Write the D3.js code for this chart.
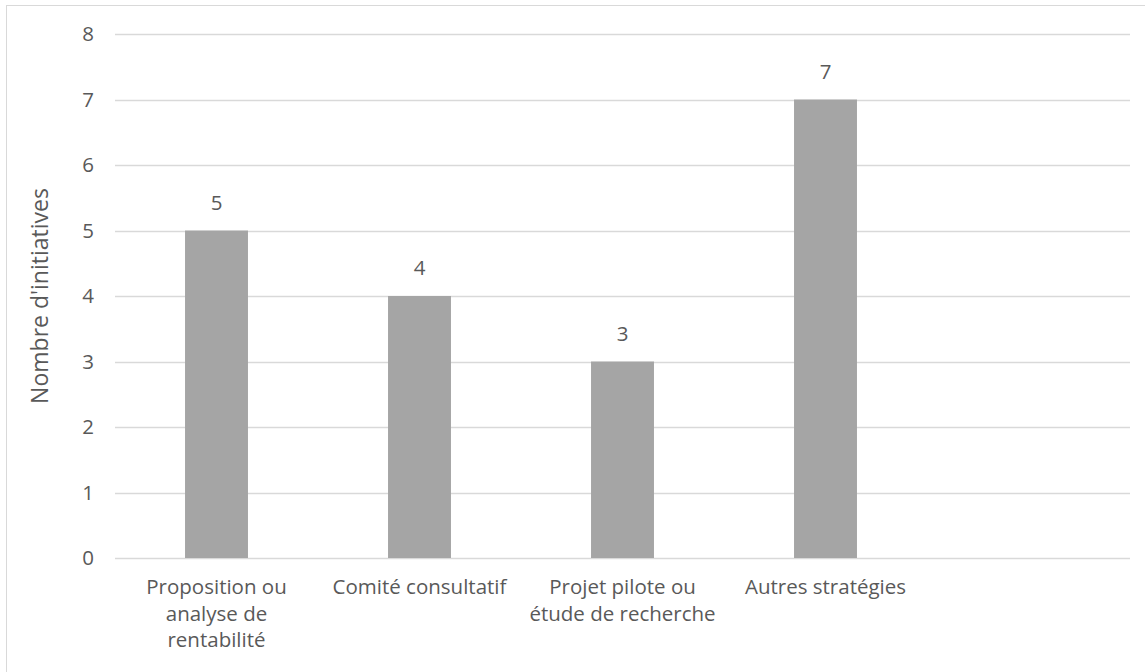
<!DOCTYPE html>
<html>
<head>
<meta charset="utf-8">
<script src="https://cdn.jsdelivr.net/npm/d3@7"></script>
<style>
  body { margin: 0; background: #fff; }
  svg text { font-family: "Open Sans", "Liberation Sans", sans-serif; fill: #595959; }
</style>
</head>
<body>
<svg id="chart" width="1145" height="672"></svg>
<script>
// Chart data
var categories = ["Proposition ou\nanalyse de\nrentabilité", "Comité consultatif", "Projet pilote ou\nétude de recherche", "Autres stratégies", ""];
var values = [5, 4, 3, 7, null];
var yTicks = [0, 1, 2, 3, 4, 5, 6, 7, 8];
var yTitle = "Nombre d'initiatives";

var svg = d3.select("#chart");

// outer frame
svg.append("rect")
  .attr("x", 6.5).attr("y", 5.5)
  .attr("width", 1150).attr("height", 680)
  .attr("fill", "none")
  .attr("stroke", "#d9d9d9");

var x = d3.scaleBand()
  .domain(d3.range(categories.length))
  .range([115, 1130])
  .paddingInner(0.69)
  .paddingOuter(0.345);

var y = d3.scaleLinear()
  .domain([0, 8])
  .range([558, 34]);

// gridlines
svg.append("g")
  .selectAll("line")
  .data(yTicks)
  .enter().append("line")
  .attr("x1", 115).attr("x2", 1130)
  .attr("y1", function(d) { return Math.round(y(d)) + 0.5; })
  .attr("y2", function(d) { return Math.round(y(d)) + 0.5; })
  .attr("stroke", "#d9d9d9")
  .attr("stroke-width", 1.3);

// y tick labels
svg.append("g")
  .selectAll("text")
  .data(yTicks)
  .enter().append("text")
  .attr("x", 94)
  .attr("y", function(d) { return y(d); })
  .attr("dy", "0.35em")
  .attr("text-anchor", "end")
  .style("font-size", "20.5px")
  .text(function(d) { return d; });

// bars
var barData = values.map(function(v, i) { return { i: i, v: v }; })
  .filter(function(d) { return d.v != null; });

svg.append("g")
  .selectAll("rect")
  .data(barData)
  .enter().append("rect")
  .attr("x", function(d) { return x(d.i); })
  .attr("width", x.bandwidth())
  .attr("y", function(d) { return y(d.v); })
  .attr("height", function(d) { return y(0) - y(d.v); })
  .attr("fill", "#a5a5a5");

// value labels
svg.append("g")
  .selectAll("text")
  .data(barData)
  .enter().append("text")
  .attr("x", function(d) { return x(d.i) + x.bandwidth() / 2; })
  .attr("y", function(d) { return y(d.v) - 21; })
  .attr("text-anchor", "middle")
  .style("font-size", "20.5px")
  .text(function(d) { return d.v; });

// category labels
var catG = svg.append("g")
  .selectAll("text")
  .data(categories)
  .enter().append("text")
  .attr("text-anchor", "middle")
  .style("font-size", "20.5px")
  .attr("transform", function(d, i) {
    return "translate(" + (x(i) + x.bandwidth() / 2) + ",594)";
  });

catG.selectAll("tspan")
  .data(function(d) { return d.split("\n"); })
  .enter().append("tspan")
  .attr("x", 0)
  .attr("dy", function(d, j) { return j === 0 ? 0 : 26.5; })
  .text(function(d) { return d; });

// y axis title
svg.append("text")
  .attr("transform", "translate(48," + ((y(0) + y(8)) / 2) + ") rotate(-90)")
  .attr("text-anchor", "middle")
  .style("font-size", "23px")
  .text(yTitle);
</script>
</body>
</html>
